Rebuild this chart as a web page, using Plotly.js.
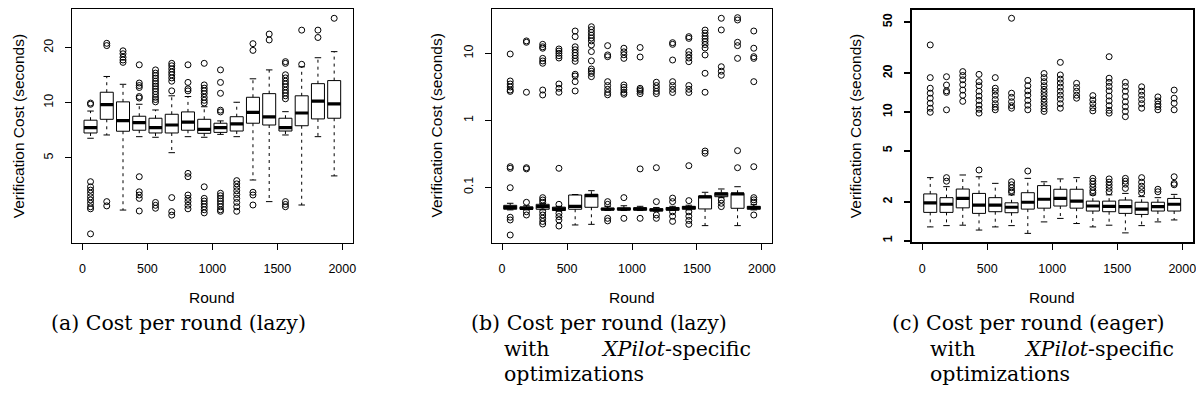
<!DOCTYPE html>
<html><head><meta charset="utf-8">
<script src="https://cdn.plot.ly/plotly-3.0.1.min.js"></script>
<style>html,body{margin:0;padding:0;background:#fff;}#chart{width:1196px;height:402px;}</style>
</head><body><div id="chart"></div>
<script>
// ---------- data ----------
const rounds = [62.5, 187.5, 312.5, 437.5, 562.5, 687.5, 812.5, 937.5, 1062.5, 1187.5, 1312.5, 1437.5, 1562.5, 1687.5, 1812.5, 1937.5];
const xTickVals = [0, 500, 1000, 1500, 2000];
const xTickText = ['0', '500', '1000', '1500', '2000'];

// (a) lazy
const aQ1  = [6.83, 8.11, 6.98, 7.07, 6.83, 6.83, 7.07, 6.80, 6.88, 7.00, 7.72, 7.55, 7.00, 7.48, 8.15, 8.22];
const aMed = [7.30, 9.75, 7.97, 7.78, 7.30, 7.55, 7.82, 7.15, 7.30, 7.65, 8.86, 8.36, 7.30, 8.78, 10.2, 9.84];
const aQ3  = [8.02, 11.4, 10.1, 8.43, 8.22, 8.64, 8.90, 8.11, 7.72, 8.38, 10.7, 11.2, 8.22, 10.9, 12.7, 13.2];
const aLo  = [6.39, 6.66, 2.59, 6.52, 6.47, 5.33, 6.52, 6.47, 6.71, 6.52, 3.78, 2.88, 6.66, 2.76, 6.52, 3.98];
const aHi  = [9.00, 13.9, 12.6, 9.80, 9.12, 10.9, 10.8, 9.50, 7.95, 10.05, 13.5, 15.1, 8.93, 15.7, 17.6, 19.0];
const aOut = [
  [9.95, 9.8, 3.7, 3.47, 3.33, 3.2, 3.06, 2.94, 2.82, 2.7, 2.63, 1.92],
  [21.1, 20.5, 2.88, 2.73],
  [19.2, 18.5, 17.7, 17.1, 16.6],
  [16.1, 12.8, 12.4, 12.1, 10.8, 10.6, 3.94, 3.26, 3.13, 3.0, 2.56],
  [15.1, 14.5, 14.05, 13.6, 13.1, 12.7, 12.3, 11.9, 11.5, 11.1, 10.7, 10.4, 10.1, 2.85, 2.75, 2.65],
  [16.4, 15.9, 15.3, 14.7, 14.2, 13.65, 13.1, 11.6, 3.03, 2.54, 2.43],
  [16.1, 12.9, 11.9, 11.6, 4.11, 3.94, 3.13, 3.0, 2.88, 2.75, 2.63],
  [16.4, 12.5, 12.0, 11.6, 11.2, 10.7, 10.3, 9.96, 3.47, 3.0, 2.9, 2.8, 2.7, 2.6, 2.5],
  [15.1, 12.9, 11.25, 9.1, 8.9, 3.2, 3.1, 3.0, 2.9, 2.8, 2.7, 2.6, 2.55],
  [3.75, 3.6, 3.45, 3.3, 3.15, 3.0, 2.85, 2.7, 2.55],
  [21.0, 19.3, 3.24, 3.13, 2.76],
  [23.7, 22.0],
  [16.75, 16.4, 14.2, 13.65, 13.1, 12.65, 12.2, 11.7, 11.3, 10.9, 10.5, 2.88, 2.78, 2.7],
  [24.9, 16.2],
  [24.9, 22.7],
  [28.9]
];
const aTickVals = [5, 10, 20];

// (b) lazy, XPilot-specific
const bQ1  = [0.047, 0.047, 0.047, 0.045, 0.047, 0.0503, 0.046, 0.046, 0.0455, 0.0445, 0.0455, 0.047, 0.0475, 0.0724, 0.0486, 0.047];
const bMed = [0.0503, 0.0486, 0.0514, 0.0475, 0.052, 0.0749, 0.047, 0.047, 0.0475, 0.0458, 0.0475, 0.0496, 0.0717, 0.0787, 0.080, 0.0496];
const bQ3  = [0.0538, 0.051, 0.0557, 0.0505, 0.0767, 0.0787, 0.049, 0.0495, 0.0495, 0.048, 0.050, 0.052, 0.0742, 0.083, 0.0814, 0.052];
const bLo  = [0.046, 0.046, 0.046, 0.044, 0.0274, 0.028, 0.045, 0.045, 0.045, 0.044, 0.045, 0.046, 0.0268, 0.070, 0.0268, 0.046];
const bHi  = [0.0577, 0.053, 0.057, 0.052, 0.078, 0.089, 0.052, 0.053, 0.052, 0.050, 0.052, 0.054, 0.0842, 0.0944, 0.102, 0.055];
const bOut = [
  [9.76, 3.86, 3.48, 3.14, 2.83, 2.7, 0.203, 0.192, 0.0986, 0.0357, 0.0325, 0.0194],
  [15.3, 14.6, 2.62, 0.196, 0.188, 0.0597, 0.0432, 0.0386],
  [13.6, 12.5, 11.9, 8.4, 7.68, 7.1, 2.83, 2.39, 0.07, 0.0646, 0.0597, 0.0432, 0.0386, 0.0345, 0.0309, 0.0283],
  [11.6, 10.8, 10.0, 9.2, 8.5, 3.48, 3.0, 2.62, 0.192, 0.0557, 0.0408, 0.0365, 0.0325, 0.0264],
  [21.5, 17.7, 12.5, 11.3, 10.2, 9.3, 8.4, 7.6, 4.86, 4.58, 3.77, 2.74],
  [24.9, 22.6, 20.5, 18.6, 16.9, 15.3, 13.3, 10.6, 7.7, 5.83, 5.4, 5.0, 4.48],
  [13.0, 9.44, 8.9, 3.77, 3.3, 2.9, 2.6, 2.4, 0.0611, 0.0557, 0.0344, 0.0315],
  [11.9, 10.5, 9.5, 8.4, 3.37, 3.1, 2.85, 2.6, 2.45, 0.0701, 0.0344],
  [12.2, 8.8, 3.0, 2.85, 2.7, 2.5, 0.188, 0.0344],
  [3.7, 3.3, 3.0, 2.7, 2.5, 0.196, 0.0611, 0.0386, 0.0344],
  [14.4, 13.6, 7.94, 3.77, 3.3, 2.9, 2.6, 0.069, 0.0611, 0.043, 0.037, 0.031],
  [17.7, 16.7, 10.6, 9.5, 8.5, 7.5, 3.3, 2.9, 2.6, 0.21, 0.0632, 0.043, 0.037, 0.032, 0.028],
  [22.2, 20.0, 18.0, 16.5, 15.0, 13.5, 12.0, 9.44, 5.03, 2.62, 0.348, 0.322],
  [33.3, 22.3, 6.3, 5.4, 4.7, 0.0646, 0.0577, 0.0515],
  [34.0, 31.4, 14.6, 13.0, 8.4, 0.352, 0.196],
  [21.5, 11.9, 8.9, 8.4, 3.77, 0.203, 0.07, 0.065, 0.06, 0.0386]
];
const bTickVals = [0.1, 1, 10];

// (c) eager, XPilot-specific
const cQ1  = [1.66, 1.66, 1.80, 1.63, 1.68, 1.65, 1.76, 1.79, 1.86, 1.79, 1.70, 1.68, 1.63, 1.60, 1.70, 1.70];
const cMed = [1.97, 1.92, 2.13, 1.89, 1.89, 1.82, 1.99, 2.10, 2.13, 2.03, 1.86, 1.85, 1.84, 1.76, 1.84, 1.92];
const cQ3  = [2.31, 2.16, 2.52, 2.33, 2.16, 1.97, 2.36, 2.68, 2.51, 2.51, 2.03, 2.03, 2.07, 1.99, 1.99, 2.13];
const cLo  = [1.28, 1.31, 1.32, 1.21, 1.28, 1.31, 1.14, 1.40, 1.49, 1.36, 1.28, 1.32, 1.15, 1.31, 1.40, 1.45];
const cHi  = [3.09, 2.63, 3.24, 3.14, 2.79, 2.27, 3.05, 2.87, 3.02, 3.09, 2.27, 2.27, 2.33, 2.20, 2.16, 2.29];
const cOut = [
  [33.2, 18.5, 15.3, 14.0, 12.8, 11.7, 10.7, 9.95],
  [18.8, 16.2, 14.6, 14.2, 10.4, 3.09, 2.9],
  [20.6, 19.2, 17.8, 16.3, 14.8, 13.5, 12.1],
  [19.6, 17.2, 16.0, 14.5, 13.3, 12.3, 11.3, 10.5, 9.8, 3.54],
  [18.5, 15.3, 14.5, 13.5, 12.5, 11.6, 10.9, 10.4],
  [53.5, 14.0, 13.0, 12.0, 11.2, 10.7, 2.87, 2.72, 2.58, 2.45, 2.38],
  [17.6, 16.0, 14.6, 13.5, 12.3, 11.3, 10.4, 3.48],
  [19.9, 18.5, 17.2, 16.0, 15.0, 14.2, 13.4, 12.6, 11.9, 11.2, 10.6, 10.1],
  [24.3, 19.4, 18.0, 16.8, 15.6, 14.5, 13.5, 12.6, 11.6, 10.7],
  [16.7, 15.5, 14.5, 13.5, 12.8],
  [13.4, 12.4, 11.6, 10.8, 10.2, 3.05, 2.9, 2.75, 2.6, 2.45, 2.35],
  [26.9, 18.3, 17.0, 15.8, 14.6, 13.3, 12.2, 11.2, 10.3, 9.8, 3.02, 2.85, 2.7, 2.55, 2.4],
  [17.0, 15.8, 14.5, 13.2, 12.0, 11.0, 10.1, 9.2, 3.05, 2.9, 2.75, 2.55],
  [15.7, 14.5, 13.5, 12.5, 11.6, 10.7, 3.09, 2.85, 2.65, 2.5, 2.35],
  [13.1, 12.2, 11.5, 11.0, 10.4, 2.51, 2.4],
  [14.8, 12.8, 11.7, 10.4, 3.14, 2.79, 2.72]
];
const cTickVals = [1, 2, 5, 10, 20, 50];

const yTitle = 'Verification Cost (seconds)';
const xTitle = 'Round';

// ---------- styling / geometry ----------
const W = 1196, H = 402;
const BOXW = 100;      // box width in round units
const STAPLE = 25;     // half staple length in round units
const sans = 'Liberation Sans, Arial, sans-serif';
const serif = 'DejaVu Serif, Liberation Serif, serif';

function panelTraces(xa, ya, q1, med, q3, lo, hi, outs) {
  const traces = [];
  traces.push({
    type: 'box', xaxis: xa, yaxis: ya, x: rounds,
    q1: q1, median: med, q3: q3, lowerfence: q1, upperfence: q3,
    width: BOXW, whiskerwidth: 0, boxpoints: false,
    line: {color: '#000', width: 1}, fillcolor: 'rgba(255,255,255,0)',
    hoverinfo: 'skip', showlegend: false
  });
  const mx = [], my = [], wx = [], wy = [], sx = [], sy = [], ox = [], oy = [];
  rounds.forEach((r, i) => {
    mx.push(r - BOXW / 2, r + BOXW / 2, null); my.push(med[i], med[i], null);
    wx.push(r, r, null, r, r, null); wy.push(q3[i], hi[i], null, q1[i], lo[i], null);
    sx.push(r - STAPLE, r + STAPLE, null, r - STAPLE, r + STAPLE, null);
    sy.push(hi[i], hi[i], null, lo[i], lo[i], null);
    outs[i].forEach(v => { ox.push(r); oy.push(v); });
  });
  traces.push({type: 'scatter', mode: 'lines', xaxis: xa, yaxis: ya, x: wx, y: wy,
    line: {color: '#000', width: 1, dash: '3px,4px'}, hoverinfo: 'skip', showlegend: false, connectgaps: false});
  traces.push({type: 'scatter', mode: 'lines', xaxis: xa, yaxis: ya, x: sx, y: sy,
    line: {color: '#000', width: 1}, hoverinfo: 'skip', showlegend: false, connectgaps: false});
  traces.push({type: 'scatter', mode: 'lines', xaxis: xa, yaxis: ya, x: mx, y: my,
    line: {color: '#000', width: 3.2}, hoverinfo: 'skip', showlegend: false, connectgaps: false});
  traces.push({type: 'scatter', mode: 'markers', xaxis: xa, yaxis: ya, x: ox, y: oy,
    marker: {symbol: 'circle-open', size: 6, color: '#000', line: {width: 1, color: '#000'}},
    hoverinfo: 'skip', showlegend: false});
  return traces;
}

const data = [].concat(
  panelTraces('x', 'y', aQ1, aMed, aQ3, aLo, aHi, aOut),
  panelTraces('x2', 'y2', bQ1, bMed, bQ3, bLo, bHi, bOut),
  panelTraces('x3', 'y3', cQ1, cMed, cQ3, cLo, cHi, cOut)
);

// frame pixel boxes: [left, right, top, bottom]
const frames = [[72, 352.7, 9.3, 242.7], [491.7, 772.3, 9, 242.7], [911.7, 1192.7, 10, 242.3]];
const yRanges = [[0.235, 1.510], [-1.827, 1.661], [-0.0124, 1.7925]];
const yTicks = [aTickVals, bTickVals, cTickVals];

function xAxis(i, bold) {
  const f = frames[i];
  return {
    domain: [f[0] / W, f[1] / W], anchor: i === 0 ? 'y' : 'y' + (i + 1),
    range: [-80, 2080], tickvals: xTickVals, ticktext: xTickText,
    ticks: 'outside', ticklen: 6, tickwidth: 1, tickcolor: '#000',
    showline: true, mirror: true, linecolor: '#000', linewidth: bold ? 2 : 1,
    showgrid: false, zeroline: false, ticklabelstandoff: 8, ticklabeloverflow: 'allow',
    tickfont: {family: sans, size: 12.5, color: '#000'}
  };
}
function yAxis(i, bold) {
  const f = frames[i];
  return {
    domain: [(H - f[3]) / H, (H - f[2]) / H], anchor: i === 0 ? 'x' : 'x' + (i + 1),
    type: 'log', range: yRanges[i], tickvals: yTicks[i], ticktext: yTicks[i].map(String),
    ticks: 'outside', ticklen: 6, tickwidth: bold ? 2 : 1, tickcolor: '#000', tickangle: -90,
    showline: true, mirror: true, linecolor: '#000', linewidth: bold ? 2 : 1,
    showgrid: false, zeroline: false, ticklabelstandoff: 7, ticklabeloverflow: 'allow',
    tickfont: {family: sans, size: 12.5, color: '#000', weight: bold ? 'bold' : 'normal'}
  };
}

const annotations = [];
const yTitleX = [18.3, 436.7, 855];
frames.forEach((f, i) => {
  annotations.push({text: yTitle, xref: 'paper', yref: 'paper', x: yTitleX[i] / W, y: 1 - ((f[2] + f[3]) / 2) / H,
    xanchor: 'center', yanchor: 'middle', textangle: -90, showarrow: false,
    font: {family: sans, size: 15.5, color: '#000'}});
  annotations.push({text: xTitle, xref: 'paper', yref: 'paper', x: ((f[0] + f[1]) / 2) / W, y: 1 - 297 / H,
    xanchor: 'center', yanchor: 'middle', showarrow: false,
    font: {family: sans, size: 15.5, color: '#000'}});
});
function cap(text, x, y, anchor) {
  annotations.push({text: text, xref: 'paper', yref: 'paper', x: x / W, y: 1 - y / H,
    xanchor: anchor, yanchor: 'middle', showarrow: false, borderpad: 0,
    font: {family: serif, size: 20.5, color: '#000'}});
}
cap('(a) Cost per round (lazy)', 50, 323, 'left');
cap('(b) Cost per round (lazy)', 470, 323, 'left');
cap('with', 503, 349, 'left');
cap('<i>XPilot</i>-specific', 752, 349, 'right');
cap('optimizations', 503, 374, 'left');
cap('(c) Cost per round (eager)', 891, 323, 'left');
cap('with', 929, 349, 'left');
cap('<i>XPilot</i>-specific', 1175, 349, 'right');
cap('optimizations', 929, 374, 'left');

const layout = {
  width: W, height: H, margin: {l: 0, r: 0, t: 0, b: 0},
  paper_bgcolor: '#fff', plot_bgcolor: '#fff', showlegend: false,
  xaxis: xAxis(0, false), yaxis: yAxis(0, false),
  xaxis2: xAxis(1, false), yaxis2: yAxis(1, false),
  xaxis3: xAxis(2, true), yaxis3: yAxis(2, true),
  annotations: annotations
};

Plotly.newPlot('chart', data, layout, {staticPlot: true, displayModeBar: false});
</script></body></html>
